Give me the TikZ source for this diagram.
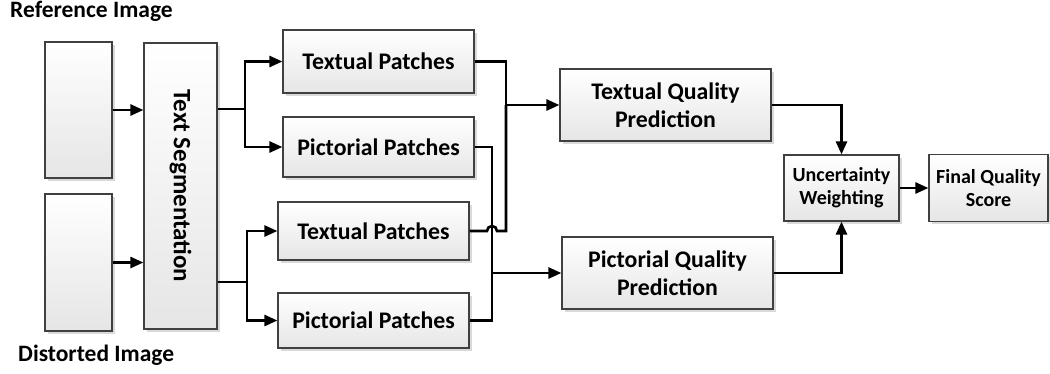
\documentclass[tikz,border=0pt]{standalone}
\usepackage{fontspec}
\setmainfont{Carlito}
\usetikzlibrary{arrows.meta, shadows, calc}

\begin{document}
\begin{tikzpicture}[x=1pt, y=-1pt,
    box/.style={draw=black!75, line width=1.2pt, top color=white, bottom color=black!10,
        drop shadow={shadow xshift=2.5pt, shadow yshift=-2.5pt, fill=black!25, opacity=0.6},
        inner sep=0pt, align=center, font=\fontsize{23.8}{28}\selectfont\bfseries},
    small/.style={font=\fontsize{20}{23}\selectfont\bfseries},
    line/.style={line width=2.6pt},
    arr/.style={line width=2.6pt, -{Triangle[length=13pt, width=11pt]}},
    lab/.style={font=\fontsize{23.5}{27}\selectfont\bfseries, anchor=west, inner sep=0pt}]

    \useasboundingbox (0,0) rectangle (1050,373);

    \node[lab] (reflab) at (10,11) {Reference Image};
    \node[lab] (distlab) at (18,355) {Distorted Image};

    \node[box, minimum width=67pt, minimum height=136pt] (ref) at (78.5,110) {};
    \node[box, minimum width=67pt, minimum height=137pt] (dist) at (78.5,262.5) {};
    \node[box, minimum width=73pt, minimum height=286pt] (seg) at (180.5,186) {};
    \node[rotate=-90, font=\fontsize{25}{29}\selectfont\bfseries] (segtext) at (seg) {Text Segmentation};

    \node[box, minimum width=191pt, minimum height=63pt] (tp1) at (378.5,61.5) {Textual Patches};
    \node[box, minimum width=191pt, minimum height=60pt] (pp1) at (378.5,147) {Pictorial Patches};
    \node[box, minimum width=191pt, minimum height=58pt] (tp2) at (373.5,231) {Textual Patches};
    \node[box, minimum width=191pt, minimum height=55pt] (pp2) at (373.5,320.5) {Pictorial Patches};

    \node[box, minimum width=211pt, minimum height=72pt] (tqp) at (665.5,105) {Textual Quality\\Prediction};
    \node[box, minimum width=211pt, minimum height=72pt] (pqp) at (667.5,273) {Pictorial Quality\\Prediction};
    \node[box, small, minimum width=115pt, minimum height=66pt] (uw) at (841.5,188) {Uncertainty\\Weighting};
    \node[box, small, minimum width=119pt, minimum height=67pt] (fqs) at (988.5,188) {Final Quality\\Score};

    \coordinate (bs1) at (245,109);
    \coordinate (bs2) at (247,282);
    \coordinate (jt) at (506,105);
    \coordinate (jp) at (492,273);

    \draw[arr] (ref.east) -- (seg.west |- ref.east);
    \draw[arr] (dist.east) -- (seg.west |- dist.east);

    \draw[line] (seg.east |- bs1) -- (bs1);
    \draw[arr] (bs1) |- (tp1.west);
    \draw[arr] (bs1) |- (pp1.west);
    \draw[line] (seg.east |- bs2) -- (bs2);
    \draw[arr] (bs2) |- (tp2.west);
    \draw[arr] (bs2) |- (pp2.west);

    \draw[line] (tp1.east) -| (jt);
    \draw[line] (tp2.east) -- ($(jp |- tp2.east)+(-5,0)$) arc[start angle=180, end angle=0, radius=5pt] -| (jt);
    \draw[line] (pp1.east) -| (jp);
    \draw[line] (pp2.east) -| (jp);
    \draw[arr] (jt) -- (tqp.west |- jt);
    \draw[arr] (jp) -- (pqp.west |- jp);

    \draw[arr] (tqp.east) -| (uw.north);
    \draw[arr] (pqp.east) -| (uw.south);
    \draw[arr] (uw.east) -- (fqs.west);

\end{tikzpicture}
\end{document}
